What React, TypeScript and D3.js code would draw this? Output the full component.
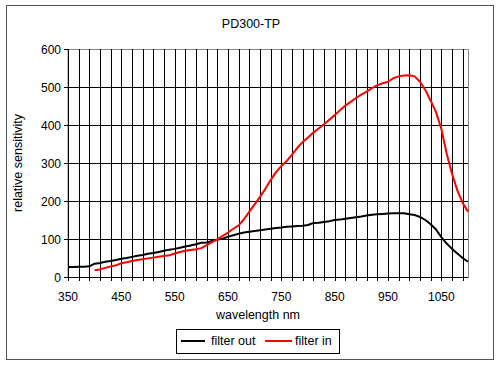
import React from 'react';
import * as d3 from 'd3';

// wavelength (nm) and relative sensitivity
const outNm = d3.range(350, 1101, 10);
const outValues = [
  26, 26, 27, 27, 28, 35, 37, 40, 42, 45, 48, 50, 53, 56, 58, 61, 63, 66, 69, 72,
  74, 77, 80, 83, 86, 90, 91, 95, 98, 101, 106, 110, 114, 117, 119, 121, 123, 125, 127, 129,
  130, 132, 133, 134, 135, 137, 142, 143, 145, 147, 150, 151, 153, 155, 157, 159, 162, 164, 165, 166,
  167, 168, 168, 168, 165, 163, 158, 150, 139, 125, 105, 88, 74, 62, 50, 40,
];
const inNm = d3.range(400, 1101, 10);
const inValues = [
  18, 20, 24, 28, 31, 36, 39, 42, 45, 47, 49, 51, 53, 55, 57, 62, 66, 69, 71, 73,
  76, 84, 92, 99, 108, 117, 127, 136, 152, 172, 191, 211, 232, 255, 276, 292, 305, 322, 340, 355,
  367, 380, 391, 402, 414, 426, 439, 451, 461, 471, 480, 488, 497, 505, 510, 514, 523, 528, 530, 531,
  528, 514, 492, 464, 434, 390, 325, 272, 228, 195, 172,
];
const xTicks = [350, 450, 550, 650, 750, 850, 950, 1050];
const xGrid = d3.range(370, 1100, 20);
const yTicks = [0, 100, 200, 300, 400, 500, 600];

const series = [
  { name: 'filter out', color: '#000000', nm: outNm, values: outValues },
  { name: 'filter in', color: '#ff0000', nm: inNm, values: inValues },
];

const FONT = '"Liberation Sans", Arial, sans-serif';

export default function App() {
  const left = 68, right = 468, top = 49, bottom = 277;
  const x = d3.scaleLinear().domain([350, 1100]).range([left, right]);
  const y = d3.scaleLinear().domain([0, 600]).range([bottom, top]);

  const line = (nm: number[], vals: number[]) =>
    d3.line<number>().x((_, i) => x(nm[i])).y((d) => y(d))(vals) || '';

  return (
    <svg width={500} height={365} style={{ position: 'absolute', left: 0, top: 0, background: '#fff' }}
      fontFamily={FONT}>
      <rect x={6.5} y={5.5} width={487} height={354} fill="#fff" stroke="#555" />
      <text x={251} y={28} textAnchor="middle" fontSize={12.5}>PD300-TP</text>

      {/* plot area */}
      <rect x={left} y={top + 0.5} width={right - left + 0.5} height={bottom - top} fill="#fff" stroke="#888" />
      {xGrid.map((d) => (
        <line key={'vx' + d} x1={Math.round(x(d)) + 0.5} x2={Math.round(x(d)) + 0.5} y1={top} y2={bottom + 4}
          stroke="#000" />
      ))}
      {yTicks.slice(1, -1).map((d) => (
        <line key={'hy' + d} x1={left} x2={right} y1={Math.round(y(d)) + 0.5} y2={Math.round(y(d)) + 0.5}
          stroke="#000" />
      ))}

      {/* axes */}
      <line x1={left + 0.5} x2={left + 0.5} y1={top} y2={bottom + 4} stroke="#000" />
      <line x1={left} x2={right} y1={bottom + 0.5} y2={bottom + 0.5} stroke="#000" />
      {yTicks.map((d) => (
        <g key={'yt' + d}>
          <line x1={left - 4} x2={left} y1={Math.round(y(d)) + 0.5} y2={Math.round(y(d)) + 0.5} stroke="#000" />
          <text x={left - 7} y={y(d) + 4.5} textAnchor="end" fontSize={12}>{d}</text>
        </g>
      ))}
      {xTicks.map((d) => (
        <text key={'xt' + d} x={x(d)} y={301} textAnchor="middle" fontSize={12}>{d}</text>
      ))}
      <text x={258} y={319} textAnchor="middle" fontSize={12.5}>wavelength nm</text>
      <text transform="translate(22,163) rotate(-90)" textAnchor="middle" fontSize={12.5}>relative sensitivity</text>

      {/* series */}
      {series.map((s) => (
        <path key={s.name} d={line(s.nm, s.values)} fill="none" stroke={s.color} strokeWidth={2}
          strokeLinejoin="round" />
      ))}

      {/* legend */}
      <rect x={176.5} y={329.5} width={163} height={24} fill="#fff" stroke="#000" />
      <line x1={181} x2={205} y1={341} y2={341} stroke={series[0].color} strokeWidth={2} />
      <text x={211} y={345} fontSize={12.5}>{series[0].name}</text>
      <line x1={265} x2={292} y1={341} y2={341} stroke={series[1].color} strokeWidth={2} />
      <text x={295} y={345} fontSize={12.5}>{series[1].name}</text>
    </svg>
  );
}
